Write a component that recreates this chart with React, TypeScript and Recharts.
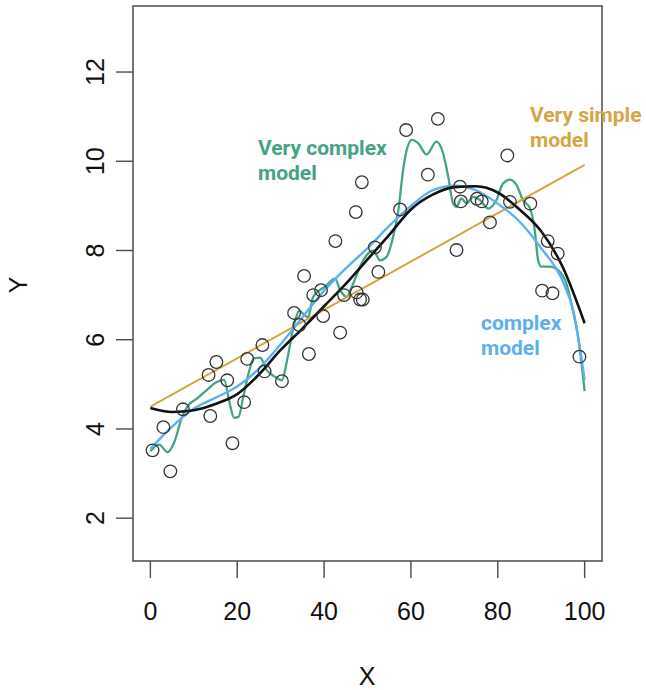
import React from "react";
import { ComposedChart, XAxis, YAxis, Scatter, Line, ReferenceArea } from "recharts";

const xTicks = [0, 20, 40, 60, 80, 100];
const yTicks = [2, 4, 6, 8, 10, 12];

const obsX = [0.5, 3.0, 4.6, 7.5, 13.4, 13.8, 15.2, 17.7, 18.9, 21.6, 22.3, 25.8, 26.3, 30.3, 33.1, 34.3, 35.4, 36.5, 37.5, 39.3, 39.8, 42.6, 43.7, 44.6, 47.3, 47.5, 48.3, 48.9, 48.7, 51.7, 52.5, 57.5, 58.9, 63.9, 66.2, 70.5, 71.3, 71.5, 75.2, 76.3, 78.2, 82.2, 82.8, 87.5, 90.2, 91.5, 92.6, 93.8, 98.8];
const obsY = [3.52, 4.04, 3.05, 4.44, 5.21, 4.29, 5.5, 5.09, 3.68, 4.6, 5.57, 5.88, 5.29, 5.07, 6.6, 6.33, 7.43, 5.68, 7.0, 7.11, 6.53, 8.21, 6.16, 7.0, 8.86, 7.06, 6.9, 6.9, 9.53, 8.07, 7.52, 8.92, 10.7, 9.7, 10.95, 8.01, 9.43, 9.1, 9.16, 9.1, 8.63, 10.13, 9.09, 9.05, 7.1, 8.21, 7.04, 7.93, 5.62];

const simpleX = [0, 100];
const simpleY = [4.5, 9.92];

const trueX = [0, 5, 10, 15, 20, 25, 30, 35, 40, 45, 50, 55, 60, 65, 70, 75, 80, 85, 90, 95, 100];
const trueY = [4.47, 4.38, 4.42, 4.56, 4.78, 5.22, 5.77, 6.25, 6.75, 7.25, 7.8, 8.35, 8.92, 9.25, 9.42, 9.44, 9.3, 8.92, 8.43, 7.62, 6.37];

const complexX = [0, 5, 10, 15, 20, 25, 30, 35, 40, 45, 50, 55, 60, 65, 70, 75, 80, 85, 90, 95, 97.5, 100];
const complexY = [3.55, 4.05, 4.45, 4.7, 4.95, 5.35, 5.9, 6.5, 7.1, 7.6, 8.05, 8.55, 9.0, 9.35, 9.45, 9.35, 9.05, 8.65, 8.05, 7.3, 6.6, 5.1];

const veryX = [0, 2, 4, 5.5, 7.3, 8.5, 10.7, 13, 15.3, 17, 18.2, 19.3, 20.3, 21.4, 22.6, 23.8, 25.3, 26.8, 28.7, 30.3, 31.4, 33, 34.3, 35.5, 36.3, 37.5, 40.6, 42.5, 43.7, 45.2, 46.4, 49, 51.3, 52.9, 54.4, 55.9, 57.1, 58.2, 58.9, 60.2, 61.7, 63.6, 65.9, 67.4, 68.6, 69.7, 70.5, 71.6, 72.8, 74.3, 75.9, 77.8, 79.7, 81.2, 82.8, 84.3, 85.8, 87.4, 88.5, 89.3, 90, 92, 93.9, 95.8, 97.3, 98.5, 100];
const veryY = [3.5, 3.65, 3.48, 3.7, 4.27, 4.5, 4.68, 4.87, 5.05, 5.1, 4.6, 4.25, 4.27, 4.72, 5.24, 5.58, 5.6, 5.32, 5.17, 5.09, 5.5, 6.3, 6.65, 6.55, 6.5, 6.96, 7.22, 7.37, 7.11, 6.96, 7.19, 7.78, 8.0, 7.78, 7.86, 8.31, 8.9, 9.8, 10.2, 10.48, 10.4, 10.15, 10.44, 10.18, 9.65, 9.06, 8.98, 9.17, 9.06, 9.2, 9.13, 8.94, 9.13, 9.5, 9.59, 9.47, 9.13, 8.95, 8.46, 7.78, 7.64, 7.64, 7.56, 7.26, 6.66, 6.06, 4.85];

const zip = (xs: number[], ys: number[]) => xs.map((x, i) => ({ x, y: ys[i] }));

const points = zip(obsX, obsY);
const simpleData = zip(simpleX, simpleY);
const trueData = zip(trueX, trueY);
const complexData = zip(complexX, complexY);
const veryData = zip(veryX, veryY);

const X_DOMAIN: [number, number] = [-4, 104];
const Y_DOMAIN: [number, number] = [1.04, 13.48];

const AXIS_FONT = "'Liberation Sans', Arial, Helvetica, sans-serif";
const NOTE_FONT = "Roboto, 'Noto Sans', sans-serif";
const AXIS_COLOR = "#4a4a4a";

const GREEN = "#45a287";
const BLUE = "#5cb0ef";
const GOLD = "#d6a543";

const XTick = (props: any) => {
  const { x, y, payload } = props;
  return (
    <text x={x} y={y + 42} textAnchor="middle" fontSize={25} fontFamily={AXIS_FONT} fill="#111">
      {payload.value}
    </text>
  );
};

const YTick = (props: any) => {
  const { x, y, payload } = props;
  const cx = x - 21;
  return (
    <text
      x={cx}
      y={y}
      dy={9}
      textAnchor="middle"
      fontSize={25}
      fontFamily={AXIS_FONT}
      fill="#111"
      transform={`rotate(-90, ${cx}, ${y})`}
    >
      {payload.value}
    </text>
  );
};

const Circle = (props: any) => {
  const { cx, cy } = props;
  if (cx == null || cy == null) return null;
  return <circle cx={cx} cy={cy} r={6.3} fill="none" stroke="#333" strokeWidth={1.3} />;
};

export default function App() {
  return (
    <div style={{ position: "absolute", left: 0, top: 0, width: 646, height: 690 }}>
      <ComposedChart
        width={646}
        height={690}
        margin={{ top: 6, right: 44, left: 73, bottom: 69 }}
      >
        <XAxis
          type="number"
          dataKey="x"
          domain={X_DOMAIN}
          ticks={xTicks}
          allowDataOverflow
          axisLine={false}
          tickSize={17}
          tickMargin={0}
          tickLine={{ stroke: AXIS_COLOR, strokeWidth: 1.4 }}
          tick={<XTick />}
          height={60}
          interval={0}
        />
        <YAxis
          type="number"
          dataKey="y"
          domain={Y_DOMAIN}
          ticks={yTicks}
          allowDataOverflow
          axisLine={false}
          tickSize={17}
          tickMargin={0}
          tickLine={{ stroke: AXIS_COLOR, strokeWidth: 1.4 }}
          tick={<YTick />}
          width={60}
          interval={0}
        />
        <ReferenceArea
          x1={X_DOMAIN[0]}
          x2={X_DOMAIN[1]}
          y1={Y_DOMAIN[0]}
          y2={Y_DOMAIN[1]}
          fill="none"
          fillOpacity={0}
          stroke={AXIS_COLOR}
          strokeWidth={1.5}
        />
        <Scatter data={points} dataKey="y" shape={<Circle />} isAnimationActive={false} />
        <Line data={veryData} dataKey="y" type="monotone" stroke={GREEN} strokeWidth={2.3} dot={false} activeDot={false} isAnimationActive={false} />
        <Line data={simpleData} dataKey="y" type="linear" stroke={GOLD} strokeWidth={2} dot={false} activeDot={false} isAnimationActive={false} />
        <Line data={complexData} dataKey="y" type="monotone" stroke={BLUE} strokeWidth={2.4} dot={false} activeDot={false} isAnimationActive={false} />
        <Line data={trueData} dataKey="y" type="monotone" stroke="#111" strokeWidth={2.6} dot={false} activeDot={false} isAnimationActive={false} />
      </ComposedChart>
      <svg
        width={646}
        height={690}
        style={{ position: "absolute", left: 0, top: 0, pointerEvents: "none" }}
      >
        <text x={18} y={285} dy={9} textAnchor="middle" fontSize={25} fontFamily={AXIS_FONT} fill="#111" transform="rotate(-90, 18, 285)">
          Y
        </text>
        <text x={367} y={685} textAnchor="middle" fontSize={25} fontFamily={AXIS_FONT} fill="#111">
          X
        </text>
        <g fontFamily={NOTE_FONT} fontWeight={700} fontSize={21}>
          <text x={258} y={155} fill={GREEN}>Very complex</text>
          <text x={258} y={180} fill={GREEN}>model</text>
          <text x={530} y={122} fill={GOLD}>Very simple</text>
          <text x={530} y={147} fill={GOLD}>model</text>
          <text x={481} y={330} fill={BLUE}>complex</text>
          <text x={481} y={355} fill={BLUE}>model</text>
        </g>
      </svg>
    </div>
  );
}
